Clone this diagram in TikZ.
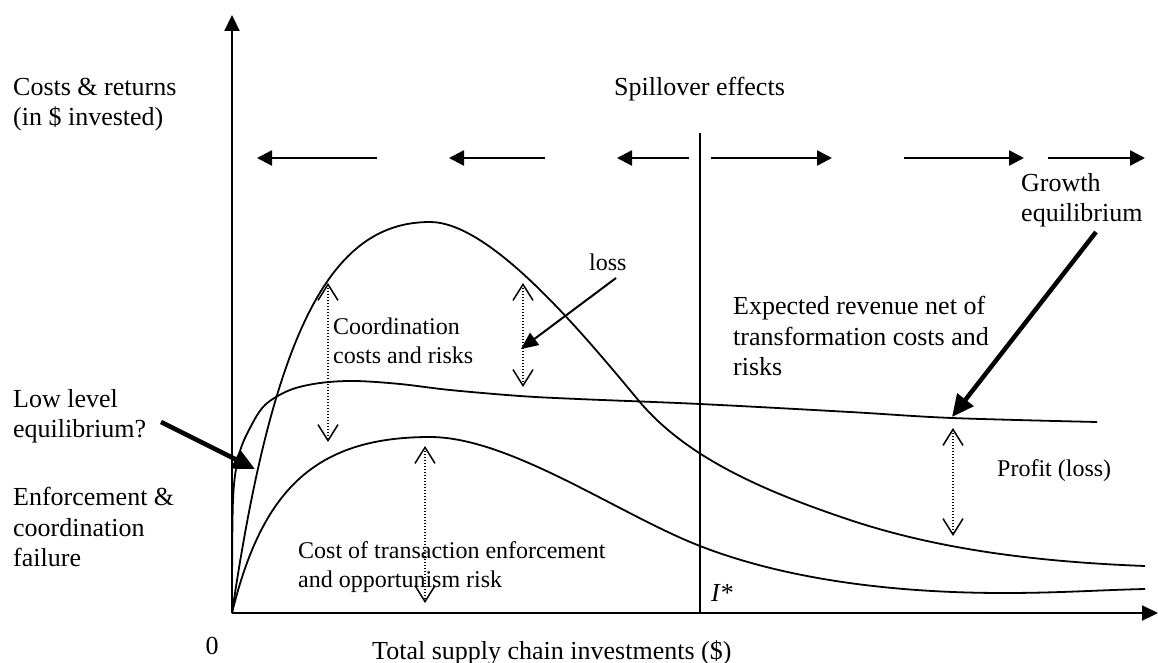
\documentclass[tikz,border=0pt]{standalone}
\usepackage{fontspec}
\setmainfont{Liberation Serif}
\usetikzlibrary{arrows.meta}
\begin{document}
\begin{tikzpicture}[x=1pt,y=-1pt,
  main/.style={font=\fontsize{26}{30.5}\selectfont, inner sep=0pt, align=left, anchor=west},
  small/.style={font=\fontsize{24}{28.5}\selectfont, inner sep=0pt, align=left, anchor=west},
  axisline/.style={line width=2.2pt, -{Triangle[length=16pt,width=15pt]}},
  spillarrow/.style={line width=2.5pt, -{Triangle[length=15pt,width=15pt]}},
  curveline/.style={line width=1.8pt, line join=round},
  gaparrow/.style={line width=1.3pt, dash pattern=on 1.3pt off 1.7pt,
     {Straight Barb[length=16pt,width=20pt,line width=1.5pt]}-{Straight Barb[length=16pt,width=20pt,line width=1.5pt]}},
  pointer/.style={line width=4.5pt, -{Triangle[length=22pt,width=20pt]}},
  thinpointer/.style={line width=2pt, -{Triangle[length=17pt,width=15pt]}}]
\useasboundingbox (0,0) rectangle (1158,663);

% axes
\coordinate (O) at (232,613);
\coordinate (ytop) at (232,15);
\coordinate (xend) at (1158,613);
\draw[axisline] (O) -- (ytop);
\draw[axisline] (O) -- (xend);

% I* line
\coordinate (istop) at (700,133);
\coordinate (isbot) at (700,613);
\draw[line width=2pt] (istop) -- (isbot);

% spillover arrows
\coordinate (s1a) at (377,158); \coordinate (s1b) at (257,158);
\coordinate (s2a) at (545,158); \coordinate (s2b) at (449,158);
\coordinate (s3a) at (689,158); \coordinate (s3b) at (617,158);
\coordinate (s4a) at (711,158); \coordinate (s4b) at (832,158);
\coordinate (s5a) at (904,158); \coordinate (s5b) at (1024,158);
\coordinate (s6a) at (1048,158); \coordinate (s6b) at (1145,158);
\foreach \a/\b in {s1a/s1b,s2a/s2b,s3a/s3b,s4a/s4b,s5a/s5b,s6a/s6b}
  \draw[spillarrow] (\a) -- (\b);

% hump curve
\draw[curveline] (O) .. controls (275,320) and (335,222) .. (430,222)
  .. controls (490,222) and (580,330) .. (639,401)
  .. controls (685,456) and (760,490) .. (850,520)
  .. controls (940,550) and (1040,562) .. (1145,566);

% revenue curve
\draw[curveline] plot[smooth, tension=0.55] coordinates {
 (232,613) (233,500) (239,455) (250,428) (265,405) (290,390) (320,383) (355,381)
 (400,384) (450,390) (520,396) (578,399) (700,404) (850,412) (952,418) (1097,422)};

% enforcement cost curve
\draw[curveline] (O) .. controls (262,490) and (315,437) .. (430,437)
  .. controls (510,437) and (620,515) .. (700,546)
  .. controls (790,581) and (900,593) .. (1004,593)
  .. controls (1060,593) and (1100,590) .. (1145,589);

% dotted gap arrows
\coordinate (g1t) at (328,283); \coordinate (g1b) at (328,442);
\coordinate (g2t) at (523,283); \coordinate (g2b) at (523,387);
\coordinate (g3t) at (425,446); \coordinate (g3b) at (425,603);
\coordinate (g4t) at (953,428); \coordinate (g4b) at (953,536);
\draw[gaparrow] (g1t) -- (g1b);
\draw[gaparrow] (g2t) -- (g2b);
\draw[gaparrow] (g3t) -- (g3b);
\draw[gaparrow] (g4t) -- (g4b);

% labels
\node[main] (costs) at (13,104.5) {Costs \& returns\\(in \$ invested)};
\node[main] (spill) at (614,89) {Spillover effects};
\node[main] (growth) at (1021,200) {Growth\\equilibrium};
\node[small] (loss) at (589,262) {loss};
\node[main] (expected) at (733,336) {Expected revenue net of\\transformation costs and\\risks};
\node[small] (coord) at (333,341) {Coordination\\costs and risks};
\node[main] (low) at (13,416) {Low level\\equilibrium?};
\node[main] (enf) at (13,527) {Enforcement \&\\coordination\\failure};
\node[small] (profit) at (997,471) {Profit (loss)};
\node[small] (cost) at (298,567) {Cost of transaction enforcement\\and opportunism risk};
\node[main] (istar) at (711,593) {\textit{I}*};
\node[main, anchor=center] (zero) at (212,646) {0};
\node[main] (xlabel) at (372,653) {Total supply chain investments (\$)};

% pointers
\coordinate (lowfrom) at (161,422); \coordinate (lowto) at (255,469);
\coordinate (grfrom) at (1096,232); \coordinate (grto) at (952,417);
\coordinate (lossfrom) at (616,278); \coordinate (lossto) at (521,349);
\draw[pointer] (lowfrom) -- (lowto);
\draw[pointer] (grfrom) -- (grto);
\draw[thinpointer] (lossfrom) -- (lossto);
\end{tikzpicture}
\end{document}
